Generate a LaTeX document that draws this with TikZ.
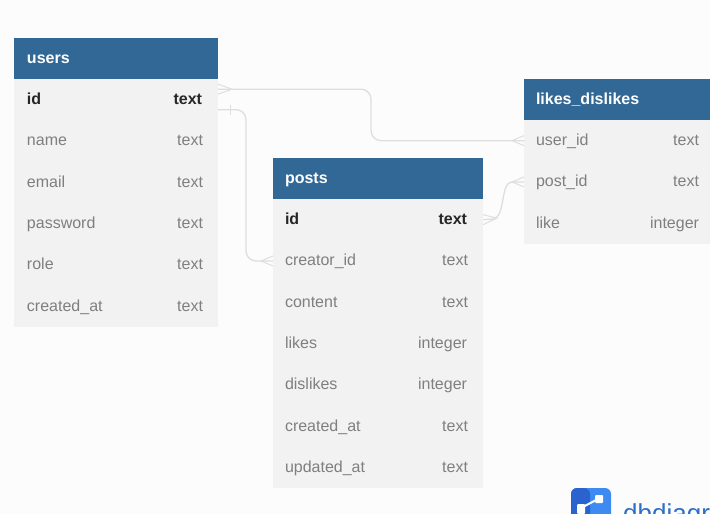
\documentclass[tikz,border=0pt]{standalone}
\usepackage{fontspec}
\setmainfont{Liberation Sans}
\usetikzlibrary{positioning}
\definecolor{headblue}{HTML}{316896}
\definecolor{rowgrey}{HTML}{F2F2F2}
\definecolor{pagegrey}{HTML}{FCFCFC}
\definecolor{linegrey}{HTML}{DEDEDE}
\definecolor{fieldgrey}{HTML}{7F7F7F}
\definecolor{logodark}{HTML}{2A62CE}
\definecolor{logolight}{HTML}{3D8BF2}
\definecolor{logotext}{HTML}{2E6FC7}
\tikzset{
  cell/.style={inner sep=0pt, outer sep=0pt, text height=13pt, text depth=3pt, font=\fontsize{16}{18}\selectfont},
  tablehead/.style={cell, fill=headblue, text=white, font=\fontsize{16}{18}\selectfont\bfseries, minimum height=41pt, anchor=north west, inner xsep=13pt, align=left},
  tablerow/.style={cell, fill=rowgrey, text=fieldgrey, minimum height=41.3pt, inner xsep=13pt, align=left},
  coltype/.style={cell, text=fieldgrey},
  keyrow/.style={tablerow, text=black!85, font=\fontsize{16}{18}\selectfont\bfseries},
  keytype/.style={coltype, text=black!85, font=\fontsize{16}{18}\selectfont\bfseries},
  relation/.style={draw=linegrey, line width=1.3pt, rounded corners=10pt},
  crowfoot/.style={draw=linegrey, line width=1pt},
  narrow/.style={inner xsep=12pt},
}
\begin{document}
\begin{tikzpicture}[x=1pt, y=-1pt]
    \path[use as bounding box, fill=pagegrey] (0,0) rectangle (710,514);
    % users
    \node[tablehead, text width=178pt] (usershead) at (14,38) {users};
    \node[keyrow, text width=178pt, below=0pt of usershead] (usersid) {id};
    \node[tablerow, text width=178pt, below=0pt of usersid] (usersname) {name};
    \node[tablerow, text width=178pt, below=0pt of usersname] (usersemail) {email};
    \node[tablerow, text width=178pt, below=0pt of usersemail] (userspassword) {password};
    \node[tablerow, text width=178pt, below=0pt of userspassword] (usersrole) {role};
    \node[tablerow, text width=178pt, below=0pt of usersrole] (userscreated) {created\_at};
    \node[keytype, left=16pt of usersid.east] (usersidtype) {text};
    \node[coltype, left=15pt of usersname.east] (usersnametype) {text};
    \node[coltype, left=15pt of usersemail.east] (usersemailtype) {text};
    \node[coltype, left=15pt of userspassword.east] (userspasswordtype) {text};
    \node[coltype, left=15pt of usersrole.east] (usersroletype) {text};
    \node[coltype, left=15pt of userscreated.east] (userscreatedtype) {text};
    % posts
    \node[tablehead, narrow, text width=186pt] (postshead) at (273,158) {posts};
    \node[keyrow, narrow, text width=186pt, below=0pt of postshead] (postsid) {id};
    \node[tablerow, narrow, text width=186pt, below=0pt of postsid] (postscreator) {creator\_id};
    \node[tablerow, narrow, text width=186pt, below=0pt of postscreator] (postscontent) {content};
    \node[tablerow, narrow, text width=186pt, below=0pt of postscontent] (postslikes) {likes};
    \node[tablerow, narrow, text width=186pt, below=0pt of postslikes] (postsdislikes) {dislikes};
    \node[tablerow, narrow, text width=186pt, below=0pt of postsdislikes] (postscreated) {created\_at};
    \node[tablerow, narrow, text width=186pt, below=0pt of postscreated] (postsupdated) {updated\_at};
    \node[keytype, left=16pt of postsid.east] (postsidtype) {text};
    \node[coltype, left=15pt of postscreator.east] (postscreatortype) {text};
    \node[coltype, left=15pt of postscontent.east] (postscontenttype) {text};
    \node[coltype, left=16pt of postslikes.east] (postslikestype) {integer};
    \node[coltype, left=16pt of postsdislikes.east] (postsdislikestype) {integer};
    \node[coltype, left=15pt of postscreated.east] (postscreatedtype) {text};
    \node[coltype, left=15pt of postsupdated.east] (postsupdatedtype) {text};
    % likes_dislikes
    \node[tablehead, narrow, text width=162pt] (likeshead) at (524,79) {likes\_dislikes};
    \node[tablerow, narrow, text width=162pt, below=0pt of likeshead] (likesuser) {user\_id};
    \node[tablerow, narrow, text width=162pt, below=0pt of likesuser] (likespost) {post\_id};
    \node[tablerow, narrow, text width=162pt, below=0pt of likespost] (likeslike) {like};
    \node[coltype, left=11pt of likesuser.east] (likesusertype) {text};
    \node[coltype, left=11pt of likespost.east] (likesposttype) {text};
    \node[coltype, left=11pt of likeslike.east] (likesliketype) {integer};
    % relations
    \coordinate (usersout) at ([yshift=10.5pt]usersid.east);
    \coordinate (usersbar) at ([yshift=-10pt]usersid.east);
    \coordinate (bendone) at (371,115);
    \coordinate (bendtwo) at (246,185);
    \draw[relation] (usersout) -| (bendone) |- (likesuser.west);
    \draw[relation] (usersbar) -| (bendtwo) |- (postscreator.west);
    \draw[draw=linegrey, line width=1.3pt] (postsid.east) -- (493,219) .. controls (506,217) and (500,182) .. (512,182) -- (likespost.west);
    % crow feet
    \draw[crowfoot] ([yshift=5pt]usersout) -- ++(14,5) -- ++(-14,5);
    \draw[crowfoot] (230,105) -- (230,115);
    \draw[crowfoot] ([yshift=5pt]postscreator.west) -- ++(-12,5) -- ++(12,5);
    \draw[crowfoot] ([yshift=5pt]likesuser.west) -- ++(-12,5) -- ++(12,5);
    \draw[crowfoot] ([yshift=5pt]likespost.west) -- ++(-12,5) -- ++(12,5);
    \draw[crowfoot] ([yshift=5pt]postsid.east) -- ++(14,3.5) -- ++(-14,6.5);
    % logo
    \fill[logolight, rounded corners=6pt] (571,488) rectangle (611,530);
    \fill[logodark, rounded corners=6pt] (571,488) -- (590,488) -- (590,530) -- (571,530) -- cycle;
    \draw[white, line width=2pt] (581,508) -- (598,499);
    \fill[white, rounded corners=1pt] (595,495) rectangle (603,503);
    \fill[white, rounded corners=1pt] (577,504) rectangle (585,514);
    \node[anchor=base west, inner sep=0pt, text=logotext, font=\fontsize{26}{28}\selectfont] (logoname) at (623,522) {dbdiagram};
\end{tikzpicture}
\end{document}
